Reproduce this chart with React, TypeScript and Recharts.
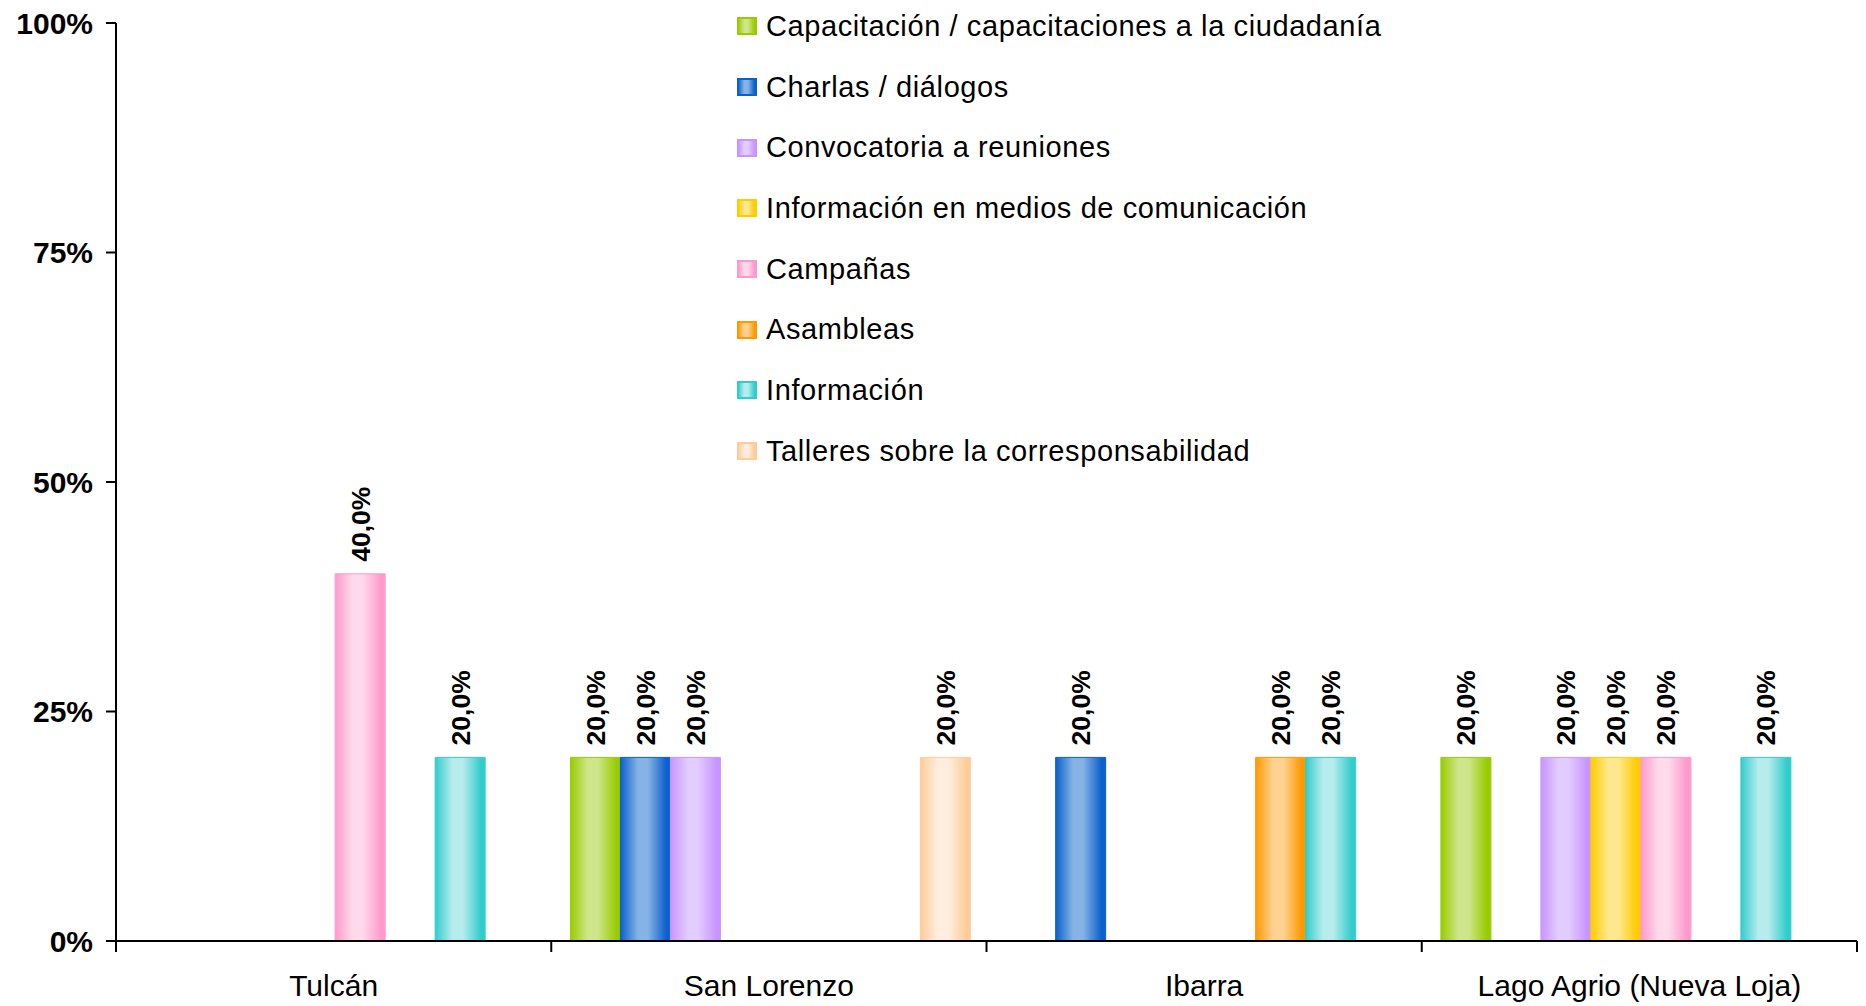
import React from 'react';
import { BarChart, Bar, XAxis, YAxis, LabelList, Legend } from 'recharts';

const categories = ['Tulcán', 'San Lorenzo', 'Ibarra', 'Lago Agrio (Nueva Loja)'];

const seriesNames = [
  'Capacitación / capacitaciones a la ciudadanía',
  'Charlas / diálogos',
  'Convocatoria a reuniones',
  'Información en medios de comunicación',
  'Campañas',
  'Asambleas',
  'Información',
  'Talleres sobre la corresponsabilidad',
];

const capacitacion = [0, 20, 0, 20];
const charlas = [0, 20, 20, 0];
const convocatoria = [0, 20, 0, 20];
const infoMedios = [0, 0, 0, 20];
const campanas = [40, 0, 0, 20];
const asambleas = [0, 0, 20, 0];
const informacion = [20, 0, 20, 20];
const talleres = [0, 20, 0, 0];

const seriesValues = [capacitacion, charlas, convocatoria, infoMedios, campanas, asambleas, informacion, talleres];

const yTicks = [0, 25, 50, 75, 100];

// [edge, light]
const seriesColors: [string, string][] = [
  ['#99cc00', '#cfe58c'],
  ['#0a60cc', '#86b3e5'],
  ['#c895ff', '#e3ccff'],
  ['#ffcc00', '#fee88e'],
  ['#ff99cc', '#ffdaeb'],
  ['#ff9900', '#ffd293'],
  ['#33cccc', '#b7ecec'],
  ['#ffcc99', '#ffeedf'],
];

const data = categories.map((c, i) => {
  const row: any = { city: c };
  seriesValues.forEach((arr, s) => {
    row['s' + s] = arr[i];
  });
  return row;
});

const FONT = '"Liberation Sans", Arial, Helvetica, sans-serif';

const W = 1866;
const H = 1006;
const PLOT_LEFT = 116;
const PLOT_RIGHT = 9;

const fmt = (v: number) => v.toFixed(1).replace('.', ',') + '%';

const BarLabel = (props: any) => {
  const { x, y, width, value } = props;
  if (!value) return null;
  const cx = Number(x) + Number(width) / 2;
  const ty = Number(y) - 12;
  return (
    <text
      x={cx}
      y={ty}
      transform={`rotate(-90, ${cx}, ${ty})`}
      dy={9.5}
      textAnchor="start"
      fontSize={26.5}
      fontWeight="bold"
      fill="#000"
      fontFamily={FONT}
    >
      {fmt(Number(value))}
    </text>
  );
};

const XTick = (props: any) => {
  const { x, y, payload, index } = props;
  const band = (W - PLOT_LEFT - PLOT_RIGHT) / categories.length;
  const half = payload && payload.offset ? payload.offset : band / 2;
  const last = index === categories.length - 1;
  return (
    <g>
      <line x1={x - half} x2={x - half} y1={y} y2={y + 11} stroke="#000" strokeWidth={2} />
      {last && <line x1={x + half} x2={x + half} y1={y} y2={y + 11} stroke="#000" strokeWidth={2} />}
      <text x={x} y={y + 55} textAnchor="middle" fontSize={30} fill="#000" fontFamily={FONT}>
        {payload.value}
      </text>
    </g>
  );
};

const LegendContent = () => (
  <div style={{ fontFamily: FONT, fontSize: 29, letterSpacing: '0.6px', color: '#000' }}>
    {seriesNames.map((n, i) => (
      <div key={n} style={{ height: 60.7, display: 'flex', alignItems: 'center', whiteSpace: 'nowrap' }}>
        <svg width={20} height={18} style={{ marginRight: 9, flex: 'none' }}>
          <rect x={1} y={1} width={18} height={16} fill={`url(#grad${i})`} stroke={seriesColors[i][0]} strokeWidth={2} />
        </svg>
        <span>{n}</span>
      </div>
    ))}
  </div>
);

export default function App() {
  return (
    <div style={{ position: 'absolute', left: 0, top: 0, width: W, height: H, background: '#fff' }}>
      <BarChart
        width={W}
        height={H}
        data={data}
        margin={{ top: 23, right: PLOT_RIGHT, bottom: 0, left: 0 }}
        barCategoryGap="4.4%"
        barGap={0}
        style={{ fontFamily: FONT }}
      >
        <defs>
          {seriesColors.map(([edge, light], i) => (
            <linearGradient key={i} id={`grad${i}`} x1="0" y1="0" x2="1" y2="0">
              <stop offset="0%" stopColor={edge} />
              <stop offset="35%" stopColor={light} />
              <stop offset="55%" stopColor={light} />
              <stop offset="92%" stopColor={edge} />
              <stop offset="100%" stopColor={edge} />
            </linearGradient>
          ))}
        </defs>
        <XAxis
          dataKey="city"
          height={65}
          tickSize={0}
          tickMargin={0}
          interval={0}
          axisLine={{ stroke: '#000', strokeWidth: 2 }}
          tickLine={false}
          tick={<XTick />}
        />
        <YAxis
          domain={[0, 100]}
          ticks={yTicks}
          width={PLOT_LEFT}
          tickFormatter={(v: number) => `${v}%`}
          tickSize={10}
          tickMargin={13}
          axisLine={{ stroke: '#000', strokeWidth: 2 }}
          tickLine={{ stroke: '#000', strokeWidth: 2 }}
          tick={{ fontSize: 30, fontWeight: 'bold', fill: '#000', fontFamily: FONT }}
          interval={0}
        />
        <Legend
          layout="vertical"
          align="center"
          verticalAlign="middle"
          content={<LegendContent />}
          wrapperStyle={{ position: 'absolute', left: 737, top: -4, width: 800 }}
        />
        {seriesNames.map((n, i) => (
          <Bar
            key={n}
            dataKey={'s' + i}
            name={n}
            fill={`url(#grad${i})`}
            stroke={seriesColors[i][0]}
            strokeWidth={1}
            isAnimationActive={false}
          >
            <LabelList dataKey={'s' + i} content={<BarLabel />} />
          </Bar>
        ))}
      </BarChart>
    </div>
  );
}
